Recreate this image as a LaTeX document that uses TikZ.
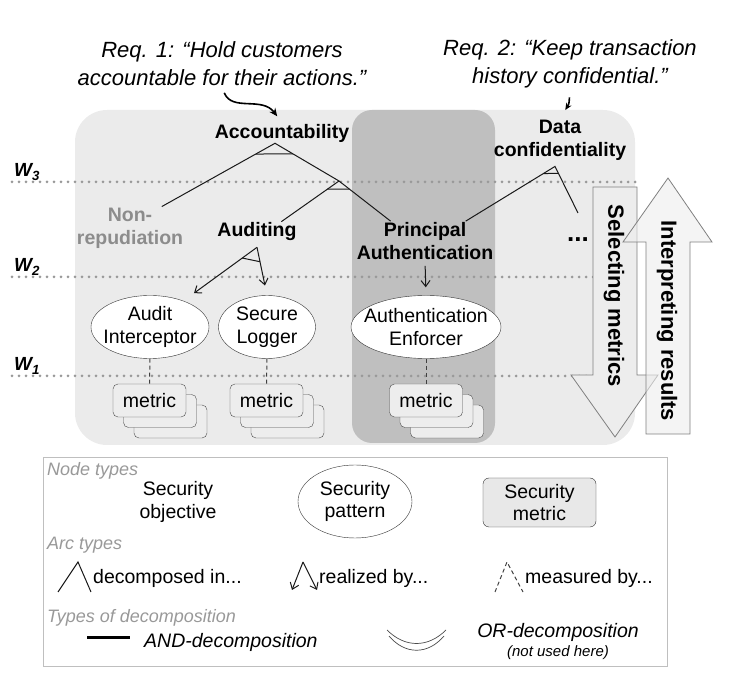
\documentclass[tikz,border=0pt]{standalone}
\usepackage{fontspec}
\setmainfont{Liberation Sans}
\usetikzlibrary{arrows.meta,shapes.geometric,calc}
\begin{document}
\begin{tikzpicture}[x=1pt,y=-1pt,
  every node/.style={font=\fontsize{19.5}{22.5}\selectfont, align=center, inner sep=1pt},
  obj/.style={font=\fontsize{19.5}{23}\selectfont\bfseries},
  req/.style={font=\fontsize{22}{28}\selectfont\itshape},
  patt/.style={ellipse, draw=black!80, fill=white, inner xsep=-9pt, inner ysep=0pt},
  metricbox/.style={draw=black!70, fill=black!7, rounded corners=5pt, minimum width=73pt, minimum height=33pt, inner sep=0pt},
  stackbox/.style={draw=black!70, fill=black!7, rounded corners=5pt},
  decomp/.style={draw=black!90, line width=1pt},
  realized/.style={decomp, -{Straight Barb[length=6pt,width=9pt]}},
  measured/.style={draw=black!75, line width=1pt, dash pattern=on 4pt off 3pt},
  wline/.style={draw=black!40, line width=3pt, line cap=round, dash pattern=on 0pt off 7pt},
  bigarrow/.style={draw=black!50, fill=black!7, line width=0.8pt},
  bigtext/.style={font=\fontsize{22}{24}\selectfont\bfseries, rotate=-90},
  legtitle/.style={font=\fontsize{18}{20}\selectfont\itshape, text=black!40, anchor=west}]
\useasboundingbox (0,0) rectangle (732,692);
\fill[black!8, rounded corners=32pt] (75,110) rectangle (635,445);
\fill[black!25, rounded corners=20pt] (352,110) rectangle (495,443);
\foreach \y/\n in {182/3, 277/2, 376/1} {
  \draw[wline] (12,\y) -- (638,\y);
  \node[anchor=base west, font=\fontsize{19}{19}\selectfont\bfseries\itshape, inner sep=0pt] (w\n) at (14,\y-5) {W\textsubscript{\n}};
}
\node[req] (req1) at (222,64) {Req. 1: “Hold customers\\accountable for their actions.”};
\node[req] (req2) at (570,64) {Req. 2: “Keep transaction\\history confidential.”};
\node[obj] (acc) at (282,133) {Accountability};
\node[obj, text=black!45] (nonrep) at (130,228) {Non-\\repudiation};
\node[obj] (aud) at (257,232) {Auditing};
\node[obj] (princ) at (425,241) {Principal\\Authentication};
\node[obj] (datac) at (560,140) {Data\\confidentiality};
\node[obj, font=\fontsize{26}{26}\selectfont\bfseries] (more) at (578,240) {...};
\node[patt, minimum width=118pt, minimum height=63pt] (ai) at (150,327) {Audit\\Interceptor};
\node[patt, minimum width=97pt, minimum height=63pt] (sl) at (267,327) {Secure\\Logger};
\node[patt, minimum width=150pt, minimum height=63pt] (ae) at (426,327) {Authentication\\Enforcer};
\foreach \x/\n in {149.5/1, 266.5/2, 426/3} {
  \foreach \d in {21,10.5}
    \draw[stackbox] (\x-36.5+\d,384+\d) rectangle (\x+36.5+\d,417+\d);
  \node[metricbox] (m\n) at (\x,400.5) {metric};
}
\draw[measured] (ai.south) -- (m1.north);
\draw[measured] (sl.south) -- (m2.north);
\draw[measured] (ae.south) -- (m3.north);
\draw[line width=1.6pt, -{Stealth[length=8pt,width=7pt]}, shorten <=6pt, shorten >=8pt]
  (req1.south) .. controls (232,112) and (262,96) .. (acc.north);
\draw[line width=1.6pt, -{Stealth[length=7pt,width=6pt]}, shorten <=8pt, shorten >=10pt]
  (req2.south) .. controls (569,104) .. (datac.north);
\coordinate (accTop) at ($(acc.south)+(-7,0)$);
\coordinate (junc) at (339,181);
\draw[decomp] (nonrep.34) -- (accTop) -- (junc) -- (princ.150);
\draw[decomp] (junc) -- (aud.23);
\draw[decomp] ($(accTop)!0.17!(nonrep.34)$) -- ($(accTop)!0.28!(junc)$);
\draw[decomp] ($(junc)!0.2!(aud.23)$) -- ($(junc)!0.2!(princ.150)$);
\coordinate (dcTop) at ($(datac.south)+(-5,5)$);
\coordinate (dcEnd) at (578,213);
\draw[decomp] (princ.26) -- (dcTop) -- (dcEnd);
\draw[decomp] ($(dcTop)!0.13!(princ.26)$) -- ($(dcTop)!0.15!(dcEnd)$);
\coordinate (audTop) at ($(aud.south)+(0,5)$);
\draw[realized, shorten >=13pt] (audTop) -- (ai.38);
\draw[realized, shorten >=10pt] (audTop) -- (sl.north);
\draw[decomp] ($(audTop)!0.2!(ai.38)$) -- ($(audTop)!0.3!(sl.north)$);
\draw[realized, shorten <=5pt, shorten >=8pt] (princ.south) -- (ae.north);
\draw[bigarrow] (593,187) -- (637,187) -- (637,375) -- (658,375) -- (615,437) -- (571,375) -- (593,375) -- cycle;
\draw[bigarrow, fill opacity=0.6] (646,434) -- (690,434) -- (690,242) -- (712,242) -- (668,178) -- (623,242) -- (646,242) -- cycle;
\node[bigtext] (sel) at (614,296) {Selecting metrics};
\node[bigtext] (interp) at (667,321) {Interpreting results};
\draw[black!25, fill=white] (43,457) rectangle (667,666);
\node[legtitle] (ntypes) at (46,471) {Node types};
\node (lobj) at (178,502) {Security\\objective};
\node[patt, minimum width=114pt, minimum height=73pt] (lpatt) at (355,501.5) {Security\\pattern};
\node[draw=black!80, fill=black!9, rounded corners=6pt, minimum width=113pt, minimum height=49pt, inner sep=0pt] (lmetric) at (539.5,502.5) {Security\\metric};
\node[legtitle] (atypes) at (46,545) {Arc types};
\draw[decomp] (58,592) -- (78,562) -- (91,592);
\node[anchor=west] (ldec) at (92,578) {decomposed in...};
\draw[realized] (303,562) -- (292,590);
\draw[realized] (303,562) -- (317,590);
\node[anchor=west] (lreal) at (318,578) {realized by...};
\draw[measured] (495,592) -- (507,562) -- (523,592);
\node[anchor=west] (lmeas) at (524,578) {measured by...};
\node[legtitle] (dtypes) at (46,618) {Types of decomposition};
\draw[line width=3pt] (87,638) -- (130,638);
\node[anchor=west, font=\fontsize{19.5}{22}\selectfont\itshape] (land) at (143,642) {AND-decomposition};
\draw[black!70, line width=0.7pt] (387,630) .. controls (405,648) and (428,648) .. (446,630);
\draw[black!70, line width=0.7pt] (389,636) .. controls (405,655) and (428,655) .. (444,636);
\node[font=\fontsize{19.5}{22}\selectfont\itshape] (lor) at (558,632) {OR-decomposition};
\node[font=\fontsize{15}{17}\selectfont\itshape] (lorn) at (558,653) {(not used here)};
\end{tikzpicture}
\end{document}
